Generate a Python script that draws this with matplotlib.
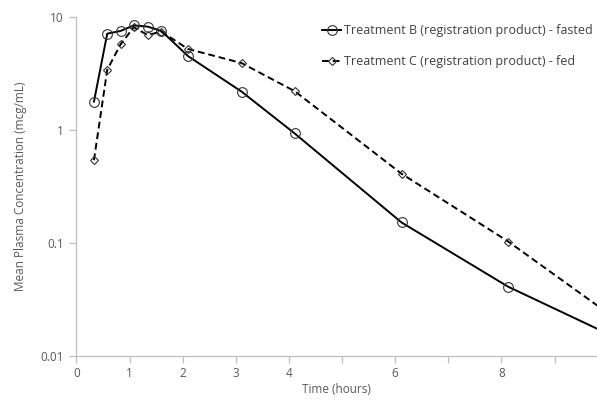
import matplotlib
matplotlib.use("Agg")
import matplotlib.pyplot as plt

# Data
time_b = [0.33, 0.58, 0.83, 1.08, 1.34, 1.60, 2.10, 3.11, 4.11, 6.12, 8.13, 12.1]
conc_b = [1.78, 7.1, 7.5, 8.4, 8.2, 7.5, 4.5, 2.18, 0.93, 0.152, 0.041, 0.0054]
time_c = [0.33, 0.58, 0.83, 1.08, 1.34, 1.60, 2.10, 3.11, 4.11, 6.12, 8.13, 12.1]
conc_c = [0.54, 3.4, 5.7, 8.1, 6.9, 7.4, 5.2, 3.9, 2.2, 0.41, 0.103, 0.0047]
label_b = "Treatment B (registration product) - fasted"
label_c = "Treatment C (registration product) - fed"
x_ticks = [0, 1, 2, 3, 4, 5, 6, 7, 8, 9]
x_tick_labels = ["0", "1", "2", "3", "4", "", "6", "", "8", ""]
y_ticks = [0.01, 0.1, 1, 10]
y_tick_labels = ["0.01", "0.1", "1", "10"]

plt.rcParams['font.family'] = ['Open Sans', 'DejaVu Sans']
grey = "#595959"
spine_grey = "#bfbfbf"

fig = plt.figure(figsize=(5.97, 4.01), dpi=100)
ax = fig.add_axes([0.128, 0.112, 0.872, 0.846])

ax.plot(time_b, conc_b, color="black", lw=1.4, ls="-", marker="o", ms=7,
        mfc="none", mec="#333333", mew=0.8, label=label_b, clip_on=True)
ax.plot(time_c, conc_c, color="black", lw=1.4, ls=(0, (3.5, 2)), marker="D", ms=4,
        mfc="none", mec="#333333", mew=0.8, label=label_c, clip_on=True)

ax.set_yscale("log")
ax.set_ylim(0.01, 10)
ax.set_xlim(0, 9.8)
ax.set_xticks(x_ticks)
ax.set_xticklabels(x_tick_labels)
ax.set_yticks(y_ticks)
ax.set_yticklabels(y_tick_labels)
ax.yaxis.set_minor_locator(matplotlib.ticker.NullLocator())

for s in ["top", "right"]:
    ax.spines[s].set_visible(False)
for s in ["left", "bottom"]:
    ax.spines[s].set_color(spine_grey)
    ax.spines[s].set_linewidth(0.9)

ax.tick_params(axis="both", colors=spine_grey, labelcolor=grey, labelsize=8.5,
               length=5, width=0.9, direction="out")
ax.tick_params(axis="x", pad=3)
ax.tick_params(axis="y", pad=4)

ax.set_xlabel("Time (hours)", color=grey, fontsize=8.5, labelpad=2)
ax.set_ylabel("Mean Plasma Concentration (mcg/mL)", color=grey, fontsize=8.5, labelpad=10)

leg = fig.legend(handles=ax.get_lines(), labels=[label_b, label_c],
                 loc="upper left", bbox_to_anchor=(0.54, 0.94),
                 bbox_transform=fig.transFigure, frameon=False,
                 fontsize=9, handlelength=1.5, handletextpad=0.2,
                 labelspacing=1.45, borderaxespad=0, borderpad=0,
                 labelcolor="#404040")

fig.savefig("out.png", dpi=100)
